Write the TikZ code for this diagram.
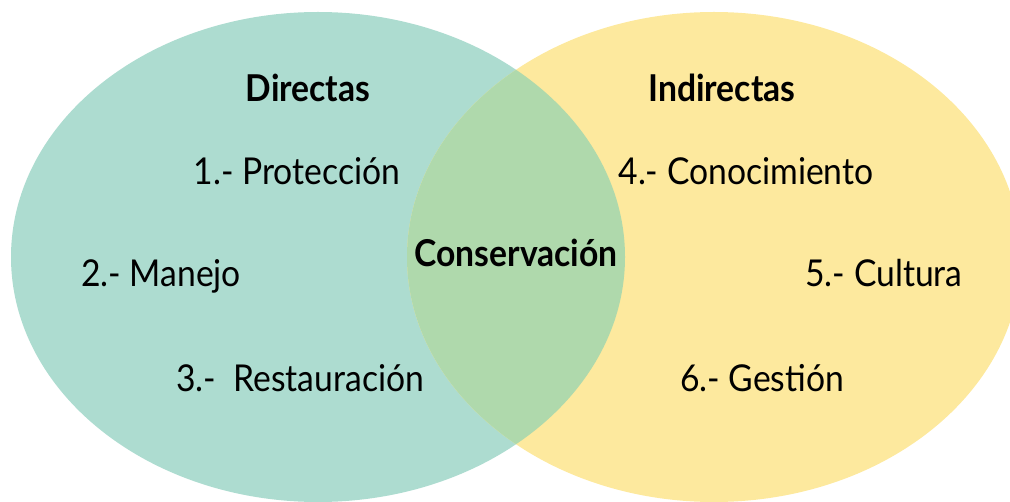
\documentclass[tikz,border=0pt]{standalone}
\usepackage{fontspec}
\setmainfont{Lato}
\newfontfamily\stretto[FakeStretch=0.91]{Lato}
\definecolor{verdeacqua}{HTML}{ADDCD0}
\definecolor{giallo}{HTML}{FDE99E}
\definecolor{verdemix}{HTML}{AFD9AC}
\tikzset{voce/.style={anchor=base, font=\stretto\fontsize{37}{42}\selectfont},
	titolo/.style={anchor=base, font=\stretto\fontsize{37}{42}\selectfont\bfseries}}

\begin{document}
\begin{tikzpicture}[x=1pt,y=1pt]
		    \begin{scope}
					\useasboundingbox (0,0) rectangle (1010,501);
					\clip (0,0) rectangle (1010,501);

					\fill[verdeacqua] (318,244) ellipse [x radius=307, y radius=245]; % sinistra
					\fill[giallo] (714,244) ellipse [x radius=307, y radius=245]; % destra
					\begin{scope}
						\clip (318,244) ellipse [x radius=307, y radius=245];
						\fill[verdemix] (714,244) ellipse [x radius=307, y radius=245]; % intersezione
					\end{scope}

					\node[titolo] (dir) at (308,399) {Directas};
					\node[titolo] (indir) at (722,399) {Indirectas};
					\node[titolo] (cons) at (516,234) {Conservación};

					\node[voce] (prot) at (297,316) {1.- Protección};
					\node[voce] (manejo) at (161,214) {2.- Manejo};
					\node[voce] (rest) at (300,109) {3.-~ Restauración};

					\node[voce] (conoc) at (746,316) {4.- Conocimiento};
					\node[voce] (cultura) at (884,214) {5.- Cultura};
					\node[voce] (gestion) at (762,109) {6.- Gestión};

		    \end{scope}
		  \end{tikzpicture}
\end{document}
